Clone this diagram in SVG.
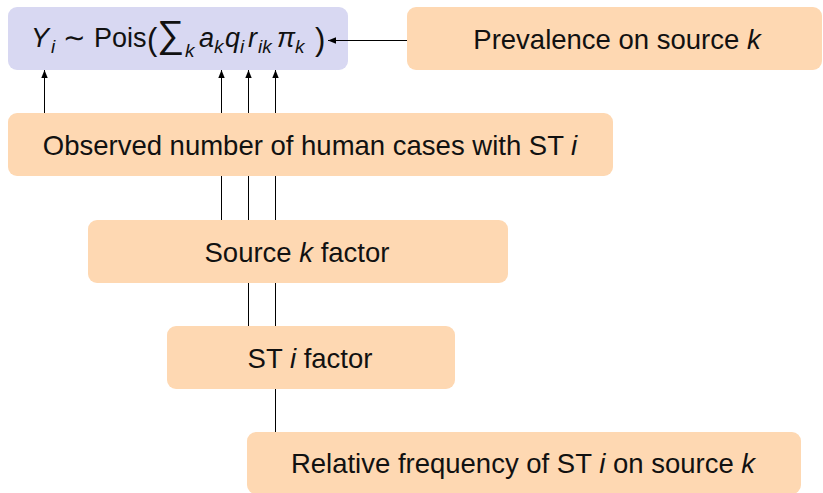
<svg xmlns="http://www.w3.org/2000/svg" width="823" height="493" viewBox="0 0 823 493">
<style>
.orange{fill:#fed8b2}
.blue{fill:#d8d8f2}
text{font-family:"Liberation Sans","DejaVu Sans",sans-serif;font-size:27.5px;fill:#111;text-anchor:middle}
.f{text-anchor:start;font-size:27px}
.it{font-style:italic}
.sub{font-size:19px;font-style:italic}
.par{font-size:31px}
.conn{stroke:#000;stroke-width:1;fill:none}
</style>
<defs>
<marker id="ah" viewBox="0 0 8 8" refX="8" refY="4" markerWidth="8" markerHeight="8" markerUnits="userSpaceOnUse" orient="auto">
<path d="M0,0.8 L8,4 L0,7.2 Z" fill="#000"/>
</marker>
</defs>
<g id="formula">
<rect class="blue" x="8" y="7" width="340" height="63" rx="9"/>
<text class="f" y="47"><tspan class="it" x="31">Y</tspan><tspan class="sub" x="51" y="53">i</tspan><tspan x="63" y="47">∼</tspan><tspan x="94" y="47">Pois</tspan><tspan class="par" x="147" y="50">(</tspan><tspan class="sub" x="185" y="57">k</tspan><tspan class="it" x="199" y="47">a</tspan><tspan class="sub" x="214" y="53">k</tspan><tspan class="it" x="225" y="47">q</tspan><tspan class="sub" x="240" y="53">i</tspan><tspan class="it" x="248" y="47">r</tspan><tspan class="sub" x="258" y="53">ik</tspan><tspan class="it" x="277" y="47">π</tspan><tspan class="sub" x="295" y="53">k</tspan><tspan class="par" x="315" y="50">)</tspan></text>
<text class="f" transform="translate(157,47)" x="0" y="0" style="font-size:38px">∑</text>
</g>
<g id="connectors">
<line class="conn" x1="44.5" y1="113" x2="44.5" y2="70" marker-end="url(#ah)"/>
<line class="conn" x1="221.5" y1="220" x2="221.5" y2="70" marker-end="url(#ah)"/>
<line class="conn" x1="248.5" y1="326" x2="248.5" y2="70" marker-end="url(#ah)"/>
<line class="conn" x1="275.5" y1="432" x2="275.5" y2="70" marker-end="url(#ah)"/>
<line class="conn" x1="407" y1="40.5" x2="328" y2="40.5" marker-end="url(#ah)"/>
</g>
<g id="prevalence">
<rect class="orange" x="407" y="7" width="415" height="63" rx="9"/>
<text x="617" y="48.5">Prevalence on source <tspan class="it">k</tspan></text>
</g>
<g id="observed">
<rect class="orange" x="8" y="113" width="605" height="63" rx="9"/>
<text x="310" y="154.5">Observed number of human cases with ST <tspan class="it">i</tspan></text>
</g>
<g id="source">
<rect class="orange" x="88" y="220" width="420" height="63" rx="9"/>
<text x="297" y="261.5">Source <tspan class="it">k</tspan> factor</text>
</g>
<g id="st">
<rect class="orange" x="167" y="326" width="288" height="63" rx="9"/>
<text x="310" y="367.5">ST <tspan class="it">i</tspan> factor</text>
</g>
<g id="relfreq">
<rect class="orange" x="247" y="432" width="554" height="62" rx="9"/>
<text x="523" y="472.5">Relative frequency of ST <tspan class="it">i</tspan> on source <tspan class="it">k</tspan></text>
</g>
</svg>
